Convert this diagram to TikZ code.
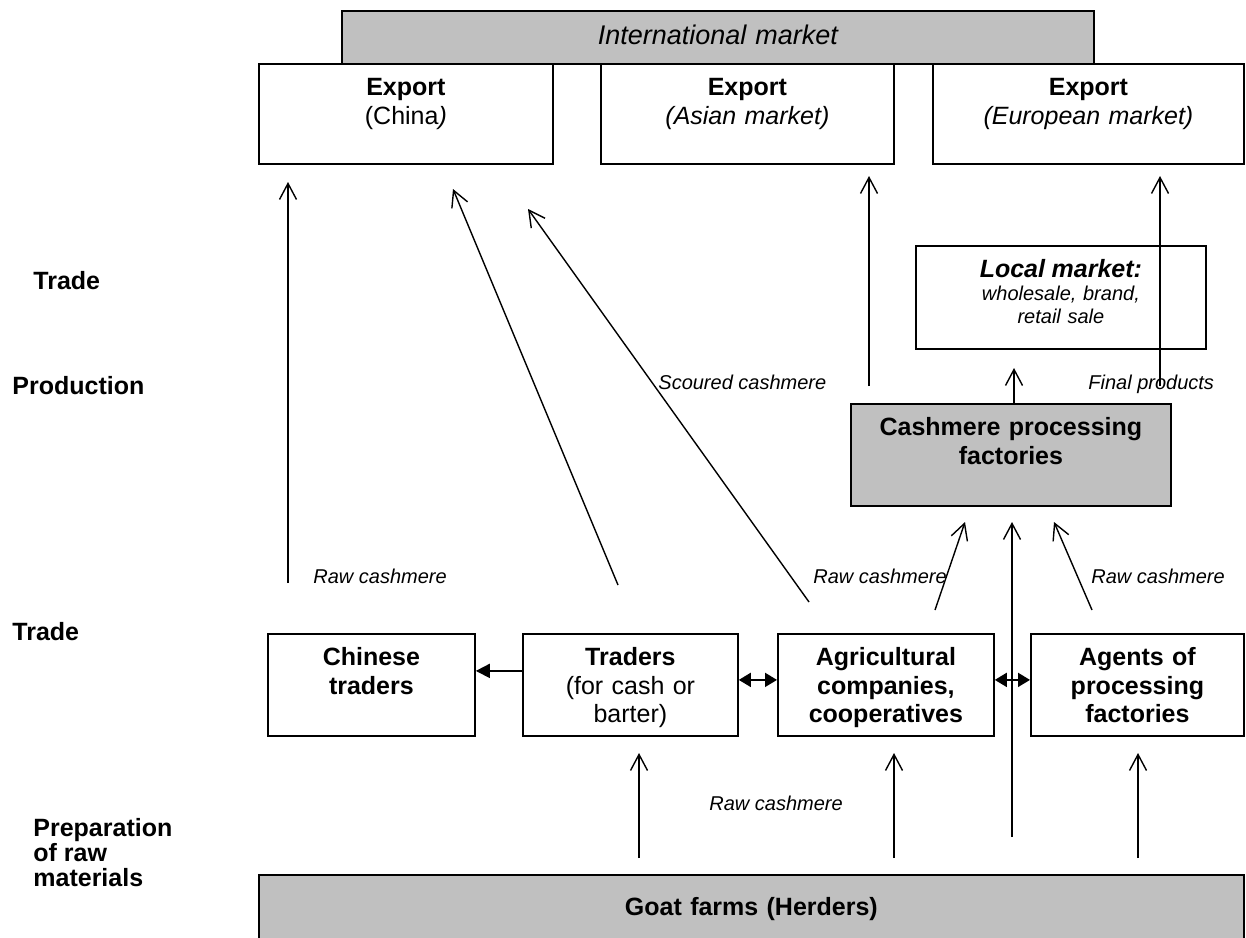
\documentclass[tikz,border=0pt]{standalone}
\usepackage{fontspec}
\setmainfont{Liberation Sans}
\usetikzlibrary{arrows.meta}
\definecolor{boxgray}{HTML}{C0C0C0}

\begin{document}
\begin{tikzpicture}[x=0.5pt, y=-0.5pt,
    >={Straight Barb[length=8pt,width=8.5pt]},
    box/.style={draw, line width=0.9pt, inner sep=0pt, anchor=north west, align=center,
      font=\fontsize{12.5}{14.2}\selectfont, text height=16pt, text depth=35pt},
    greybox/.style={box, fill=boxgray},
    flow/.style={->, line width=0.7pt},
    tradeflow/.style={-{Triangle[length=7pt,width=7pt]}, line width=0.9pt},
    swap/.style={{Triangle[length=6pt,width=7pt]}-{Triangle[length=6pt,width=7pt]}, line width=0.9pt},
    lbl/.style={anchor=west, inner sep=0pt, font=\fontsize{10}{12}\selectfont\itshape},
    stage/.style={anchor=west, inner sep=0pt, align=left, font=\fontsize{12.5}{12.5}\selectfont\bfseries}]
  \useasboundingbox (0,0) rectangle (1246,937);

  % stages on the left
  \node[stage] (trade1) at (33,281) {Trade};
  \node[stage] (prod) at (12,386) {Production};
  \node[stage] (trade2) at (12,632) {Trade};
  \node[stage] (prep) at (33,853) {Preparation\\of raw\\materials};

  % markets
  \node[greybox, text width=376pt, text height=17pt, text depth=9.5pt,
        font=\fontsize{13.5}{15}\selectfont\itshape] (intl) at (341,10) {International market};
  \node[box, text width=147pt, text depth=34pt] (expcn) at (258,63) {\textbf{Export}\\(China\textit{)}};
  \node[box, text width=146.5pt, text depth=34pt] (expas) at (600,63) {\textbf{Export}\\\textit{(Asian market)}};
  \node[box, text width=155.5pt, text depth=34pt] (expeu) at (932,63) {\textbf{Export}\\\textit{(European market)}};
  \node[box, text width=145pt, text depth=35.5pt, font=\fontsize{10}{11.5}\selectfont\itshape] (local) at (915,245)
    {{\fontsize{12.5}{14}\selectfont\bfseries Local market:}\\wholesale, brand,\\retail sale};
  \node[greybox, text width=160pt] (factory) at (850,403) {\bfseries Cashmere processing\\factories};

  % trade row
  \node[box, text width=103.5pt] (chinese) at (267,633) {\bfseries Chinese\\traders};
  \node[box, text width=107.5pt] (traders) at (522,633) {\textbf{Traders}\\(for cash or\\barter)};
  \node[box, text width=108pt] (agri) at (777,633) {\bfseries Agricultural\\companies,\\cooperatives};
  \node[box, text width=106.5pt] (agents) at (1030,633) {\bfseries Agents of\\processing\\factories};
  \node[greybox, text width=492.5pt, text height=20.5pt, text depth=25pt] (goat) at (258,874)
    {\bfseries Goat farms (Herders)};

  \draw[tradeflow] ([yshift=7pt]traders.west) -- ([yshift=7pt]chinese.east);
  \draw[swap] ([yshift=2.5pt]traders.east) -- ([yshift=2.5pt]agri.west);
  \draw[swap] ([yshift=2.5pt]agri.east) -- ([yshift=2.5pt]agents.west);

  % flows to export
  \coordinate (rawcn-s) at (288,583);   \coordinate (rawcn-t) at (288,182);
  \coordinate (trexp-s) at (618,585);   \coordinate (trexp-t) at (453,189);
  \coordinate (agexp-s) at (809,602);   \coordinate (agexp-t) at (528,209);
  \coordinate (asia-s) at (869,386);    \coordinate (asia-t) at (869,176);
  \coordinate (euro-s) at (1160,386);   \coordinate (euro-t) at (1160,176);
  \coordinate (local-t) at (1014,368);
  \draw[flow] (rawcn-s) -- (rawcn-t);
  \draw[flow] (trexp-s) -- (trexp-t);
  \draw[flow] (agexp-s) -- (agexp-t);
  \draw[flow] (asia-s) -- (asia-t);
  \draw[flow] (euro-s) -- (euro-t);
  \draw[flow] (factory.north -| local-t) -- (local-t);

  % flows to the factories
  \coordinate (agfac-s) at (935,610);   \coordinate (agfac-t) at (965,522);
  \coordinate (goatfac-s) at (1012,837); \coordinate (goatfac-t) at (1012,522);
  \coordinate (agtfac-s) at (1092,610); \coordinate (agtfac-t) at (1054,522);
  \draw[flow] (agfac-s) -- (agfac-t);
  \draw[flow] (goatfac-s) -- (goatfac-t);
  \draw[flow] (agtfac-s) -- (agtfac-t);

  % flows from the goat farms
  \foreach \n/\x in {tr/639, ag/894, at/1138} {
    \coordinate (goat\n-s) at (\x,858);
    \coordinate (goat\n-t) at (\x,753);
    \draw[flow] (goat\n-s) -- (goat\n-t);
  }

  % flow labels
  \node[lbl] (rawcn) at (313,576) {Raw cashmere};
  \node[lbl] (scoured) at (658,382) {Scoured cashmere};
  \node[lbl] (final) at (1088,384) {Final products};
  \node[lbl] (rawag) at (813,576) {Raw cashmere};
  \node[lbl] (rawagt) at (1091,576) {Raw cashmere};
  \node[lbl] (rawgoat) at (709,803) {Raw cashmere};
\end{tikzpicture}
\end{document}
